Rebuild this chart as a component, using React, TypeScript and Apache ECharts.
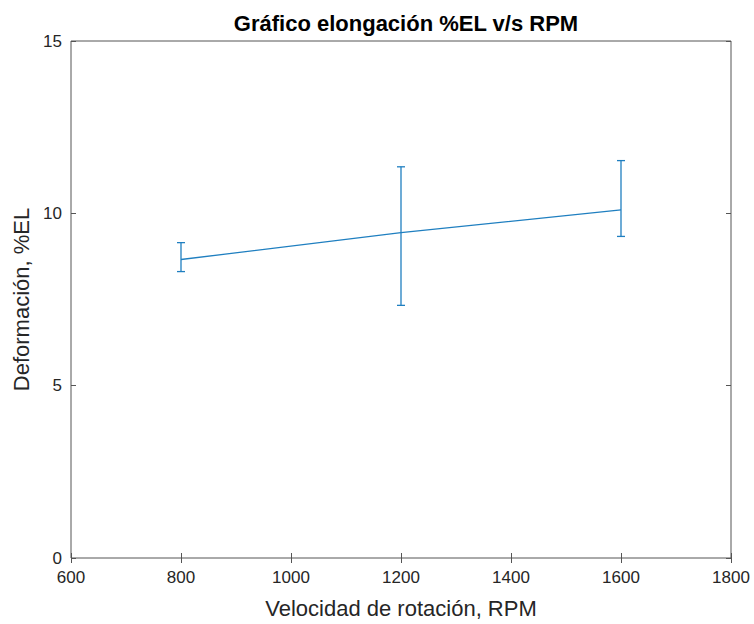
import React, { useEffect, useRef } from "react";
import * as echarts from "echarts";

const rpm = [800, 1200, 1600];
const meanEL = [8.66, 9.44, 10.1];
const upperEL = [9.15, 11.35, 11.53];
const lowerEL = [8.31, 7.33, 9.33];

const xTicks = { min: 600, max: 1800, interval: 200 };
const yTicks = { min: 0, max: 15, interval: 5 };

const titleText = "Gráfico elongación %EL v/s RPM";
const xName = "Velocidad de rotación, RPM";
const yName = "Deformación, %EL";

const lineColor = "#1f7fc0";
const axisColor = "#555555";
const textColor = "#262626";
const font = "Liberation Sans, Arial, Helvetica, sans-serif";

export default function App() {
  const ref = useRef<HTMLDivElement>(null);
  useEffect(() => {
    document.body.style.margin = "0";
    const chart = echarts.init(ref.current!, null, { renderer: "svg" });
    const errData = rpm.map((x, i) => [x, lowerEL[i], upperEL[i]]);
    const tickCommon = {
      show: true,
      inside: true,
      length: 5,
      lineStyle: { color: axisColor, width: 1 },
    };
    chart.setOption({
      animation: false,
      backgroundColor: "#ffffff",
      title: {
        text: titleText,
        left: 401,
        top: 7,
        textAlign: "center",
        textStyle: { fontFamily: font, fontSize: 22, fontWeight: "bold", color: "#000" },
      },
      grid: {
        left: 71,
        right: 23,
        top: 41,
        bottom: 65,
        show: true,
        borderColor: axisColor,
        borderWidth: 1,
        backgroundColor: "#fff",
      },
      xAxis: [
        {
          type: "value",
          position: "bottom",
          ...xTicks,
          name: xName,
          nameLocation: "middle",
          nameGap: 39,
          nameTextStyle: { fontFamily: font, fontSize: 22, color: textColor },
          axisLine: { show: false },
          axisTick: tickCommon,
          splitLine: { show: false },
          axisLabel: {
            fontFamily: font,
            fontSize: 17,
            color: textColor,
            margin: 11,
            formatter: (v: number) => String(v),
          },
        },
        {
          type: "value",
          position: "top",
          ...xTicks,
          axisLine: { show: false },
          axisTick: tickCommon,
          splitLine: { show: false },
          axisLabel: { show: false },
        },
      ],
      yAxis: [
        {
          type: "value",
          position: "left",
          ...yTicks,
          name: yName,
          nameLocation: "middle",
          nameGap: 38,
          nameTextStyle: { fontFamily: font, fontSize: 22, color: textColor },
          axisLine: { show: false },
          axisTick: tickCommon,
          splitLine: { show: false },
          axisLabel: {
            fontFamily: font,
            fontSize: 17,
            color: textColor,
            margin: 9,
            formatter: (v: number) => String(v),
          },
        },
        {
          type: "value",
          position: "right",
          ...yTicks,
          axisLine: { show: false },
          axisTick: tickCommon,
          splitLine: { show: false },
          axisLabel: { show: false },
        },
      ],
      series: [
        {
          type: "line",
          data: rpm.map((x, i) => [x, meanEL[i]]),
          showSymbol: false,
          symbol: "none",
          lineStyle: { color: lineColor, width: 1.3 },
          z: 3,
        },
        {
          type: "custom",
          data: errData,
          z: 4,
          renderItem: (params: any, api: any) => {
            const x = api.value(0);
            const lo = api.coord([x, api.value(1)]);
            const hi = api.coord([x, api.value(2)]);
            const hw = 4;
            const style = { stroke: lineColor, lineWidth: 1.3 };
            return {
              type: "group",
              children: [
                { type: "line", shape: { x1: hi[0], y1: hi[1], x2: lo[0], y2: lo[1] }, style },
                { type: "line", shape: { x1: hi[0] - hw, y1: hi[1], x2: hi[0] + hw, y2: hi[1] }, style },
                { type: "line", shape: { x1: lo[0] - hw, y1: lo[1], x2: lo[0] + hw, y2: lo[1] }, style },
              ],
            };
          },
        },
      ],
    });
    return () => chart.dispose();
  }, []);
  return <div ref={ref} style={{ width: 754, height: 624 }} />;
}
